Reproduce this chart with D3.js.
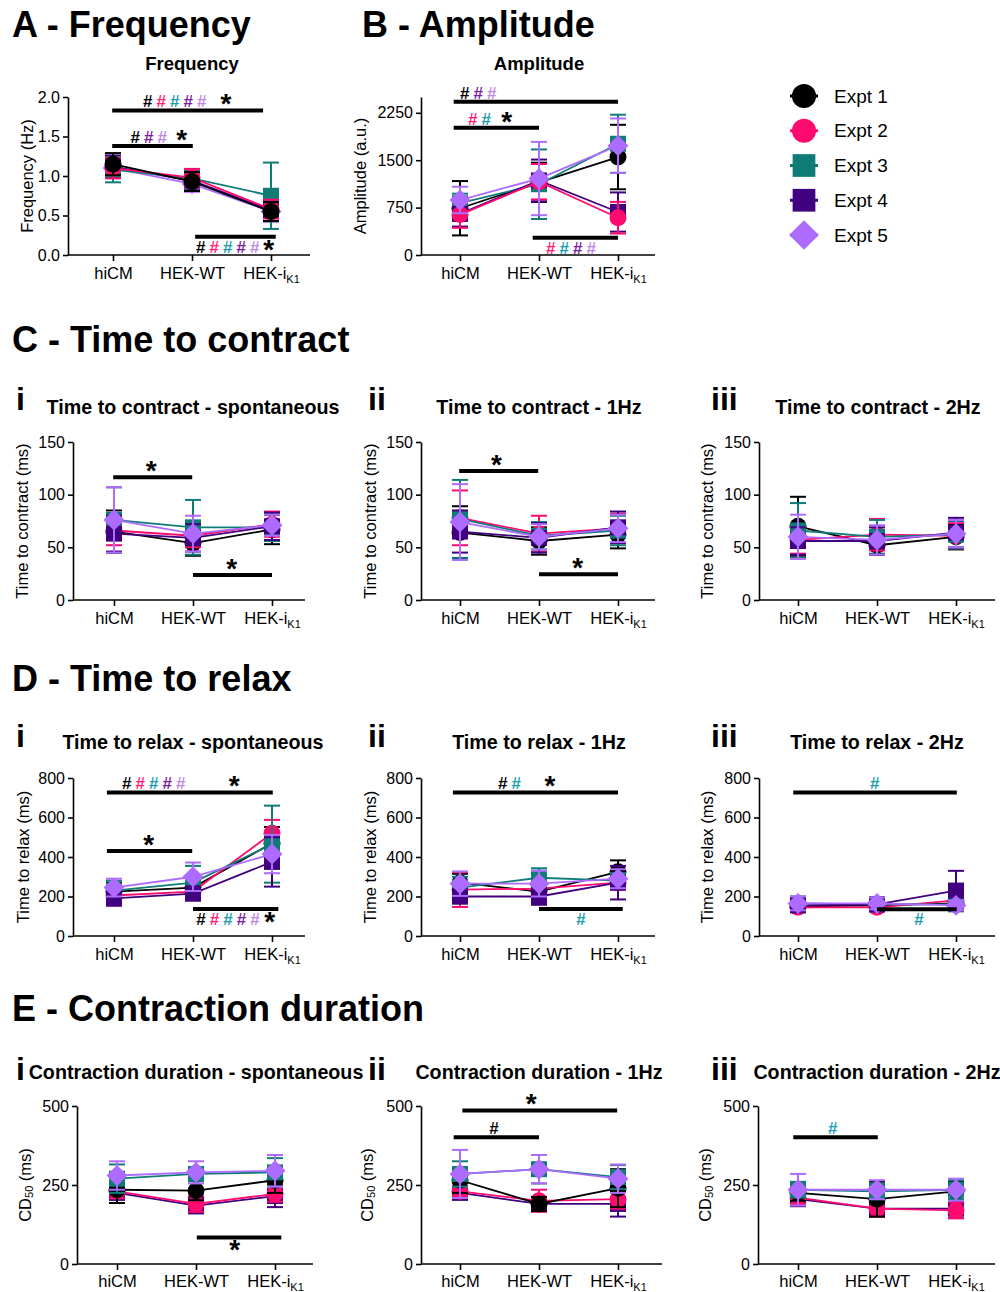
<!DOCTYPE html>
<html><head><meta charset="utf-8">
<script src="https://cdn.jsdelivr.net/npm/d3@7"></script>
<style>
body{margin:0;background:#fff}
svg text{font-family:"Liberation Sans",Arial,Helvetica,sans-serif}
</style>
</head><body>
<svg id="c" width="1000" height="1292"></svg>
<script>
// ---------------- DATA ----------------
const categories = ["hiCM", "HEK-WT", "HEK-iK1"];
const experiments = ["Expt 1", "Expt 2", "Expt 3", "Expt 4", "Expt 5"];

// rows = Expt 1..5, columns = categories
const freqMean = [[1.15,0.93,0.55],[1.10,0.98,0.58],[1.08,0.97,0.75],[1.12,0.94,0.57],[1.10,0.90,0.55]];
const freqSD   = [[0.14,0.12,0.12],[0.13,0.11,0.12],[0.16,0.10,0.42],[0.14,0.12,0.14],[0.12,0.10,0.13]];

const ampMean = [[740,1150,1550],[640,1160,590],[820,1120,1760],[650,1180,680],[870,1210,1730]];
const ampSD   = [[430,310,510],[210,280,250],[150,550,460],[200,330,310],[210,580,430]];

const ttcSpMean = [[65,54,67],[66,61,72],[76,69,69],[63,59,70],[76,63,71]];
const ttcSpSD   = [[20,12,14],[14,11,12],[31,26,13],[17,13,13],[31,17,10]];
const ttc1Mean  = [[64,56,62],[78,63,68],[77,61,66],[65,59,69],[74,60,68]];
const ttc1SD    = [[25,13,13],[26,17,14],[37,13,14],[20,14,15],[36,12,13]];
const ttc2Mean  = [[70,52,60],[57,62,61],[66,60,62],[56,56,64],[60,57,63]];
const ttc2SD    = [[28,9,12],[13,15,12],[26,16,13],[13,13,14],[21,14,13]];

const ttrSpMean = [[225,245,470],[205,225,520],[230,270,465],[190,215,375],[245,300,415]];
const ttrSpSD   = [[45,45,82],[50,35,68],[50,85,195],[35,35,125],[45,72,97]];
const ttr1Mean  = [[270,225,325],[235,240,270],[245,295,280],[200,200,270],[265,265,290]];
const ttr1SD    = [[45,55,58],[88,40,35],[55,48,38],[35,42,85],[62,65,48]];
const ttr2Mean  = [[150,155,165],[145,145,180],[165,160,160],[155,160,230],[165,165,155]];
const ttr2SD    = [[25,20,25],[20,20,25],[30,25,25],[25,25,100],[35,30,25]];

const cdSpMean = [[235,232,265],[230,190,222],[270,285,290],[225,185,215],[280,290,295]];
const cdSpSD   = [[42,30,40],[22,25,25],[45,22,45],[20,25,35],[45,35,50]];
const cd1Mean  = [[265,190,240],[230,200,205],[285,300,275],[225,190,190],[285,300,270]];
const cd1SD    = [[40,22,60],[16,35,30],[40,45,38],[16,22,40],[76,45,45]];
const cd2Mean  = [[225,205,230],[210,175,170],[235,230,235],[205,175,175],[235,235,235]];
const cd2SD    = [[25,55,30],[20,25,25],[25,25,30],[20,25,30],[50,30,35]];

// significance bars: x0/x1 in category-index units, y in data units,
// hash = experiments with "#", hx = first "#" position, star = "*" position
const freqSig = [
  {x0:-0.01,x1:1.90,y:1.83,hash:"12345",hx:0.44,star:1.43,side:"above"},
  {x0:-0.01,x1:1.01,y:1.38,hash:"145",hx:0.28,star:0.87,side:"above"},
  {x0:1.04,x1:2.06,y:0.23,hash:"12345",hx:1.11,star:1.97,side:"below"}];
const ampSig = [
  {x0:-0.08,x1:2.0,y:2425,hash:"145",hx:0.06,star:null,side:"above"},
  {x0:-0.08,x1:1.0,y:2014,hash:"23",hx:0.16,star:0.59,side:"above"},
  {x0:0.92,x1:2.0,y:274,hash:"2345",hx:1.15,star:null,side:"below"}];
const ttcSpSig = [
  {x0:-0.01,x1:0.99,y:116.5,hash:"",hx:0,star:0.47,side:"above"},
  {x0:1.0,x1:2.0,y:23.7,hash:"",hx:0,star:1.49,side:"above"}];
const ttc1Sig = [
  {x0:-0.01,x1:0.99,y:122.5,hash:"",hx:0,star:0.46,side:"above"},
  {x0:1.0,x1:2.0,y:24.4,hash:"",hx:0,star:1.49,side:"above"}];
const ttc2Sig = [];
const ttrSpSig = [
  {x0:-0.09,x1:2.01,y:727,hash:"12345",hx:0.16,star:1.52,side:"above"},
  {x0:-0.09,x1:0.99,y:430,hash:"",hx:0,star:0.44,side:"above"},
  {x0:1.0,x1:2.08,y:137,hash:"12345",hx:1.10,star:1.97,side:"below"}];
const ttr1Sig = [
  {x0:-0.09,x1:2.0,y:727,hash:"13",hx:0.54,star:1.14,side:"above"},
  {x0:1.0,x1:2.06,y:137,hash:"3",hx:1.53,star:null,side:"below"}];
const ttr2Sig = [
  {x0:-0.06,x1:2.01,y:727,hash:"3",hx:0.97,star:null,side:"above"},
  {x0:1.0,x1:2.01,y:135,hash:"3",hx:1.53,star:null,side:"below"}];
const cdSpSig = [
  {x0:1.01,x1:2.08,y:84,hash:"",hx:0,star:1.49,side:"below"}];
const cd1Sig = [
  {x0:0.03,x1:1.99,y:486,hash:"",hx:0,star:0.90,side:"above"},
  {x0:-0.08,x1:1.0,y:401,hash:"1",hx:0.43,star:null,side:"above"}];
const cd2Sig = [
  {x0:-0.06,x1:1.01,y:401,hash:"3",hx:0.44,star:null,side:"above"}];

const freqTicks = [0,0.5,1,1.5,2];
const ampTicks = [0,750,1500,2250];
const ttcTicks = [0,50,100,150];
const ttrTicks = [0,200,400,600,800];
const cdTicks = [0,250,500];

// ---------------- STYLE ----------------
const seriesColors = ["#000000","#ff0a6e","#0f7c78","#40007f","#ad6bff"];
const hashColors = {"1":"#000000","2":"#ff1f7a","3":"#1c9db2","4":"#7b1fa2","5":"#bf8ae6"};
const shapes = ["circle","circle","square","square","diamond"];
const STEP = 79;

const svg = d3.select("#c");

function drawMarker(g, shape, cx, cy, color, scale){
  let sym;
  if (shape==="circle") sym = d3.symbol(d3.symbolCircle, Math.PI*Math.pow(8.5*scale,2));
  else if (shape==="square") sym = d3.symbol(d3.symbolSquare, Math.pow(16*scale,2));
  else sym = d3.symbol(d3.symbolSquare, Math.pow(14.8*scale,2));
  g.append("path").attr("d", sym())
    .attr("transform", `translate(${cx},${cy})` + (shape==="diamond" ? " rotate(45)" : ""))
    .attr("fill", color);
}

function text(g, str, x, y, size, weight, anchor){
  return g.append("text").attr("x",x).attr("y",y).attr("font-size",size)
    .attr("font-weight",weight||"normal").attr("text-anchor",anchor||"start").attr("fill","#000").text(str);
}

const col1 = {ax:73, c0:114, xEnd:305, lx:22};
const col2 = {ax:421, c0:460, xEnd:655, lx:370};
const col3 = {ax:759, c0:798, xEnd:995, lx:707};
const eOrder = [3,1,0,2,4];

const panels = [
 {mean:freqMean, sd:freqSD, sig:freqSig, yMax:2, ticks:freqTicks, fmt:d3.format(".1f"), ylab:"Frequency (Hz)", ax:68, c0:113, xEnd:310, lx:27, yTop:97, yBot:255, order:[4,3,2,1,0]},
 {mean:ampMean, sd:ampSD, sig:ampSig, yMax:2500, ticks:ampTicks, fmt:d3.format("d"), ylab:"Amplitude (a.u.)", ax:421, c0:460, xEnd:655, lx:360, yTop:97, yBot:255, order:[0,2,3,1,4]},
 Object.assign({mean:ttcSpMean, sd:ttcSpSD, sig:ttcSpSig, yMax:150, ticks:ttcTicks, fmt:d3.format("d"), ylab:"Time to contract (ms)", yTop:442, yBot:600, order:[0,1,2,3,4]}, col1),
 Object.assign({mean:ttc1Mean, sd:ttc1SD, sig:ttc1Sig, yMax:150, ticks:ttcTicks, fmt:d3.format("d"), ylab:"Time to contract (ms)", yTop:442, yBot:600, order:[0,1,2,3,4]}, col2),
 Object.assign({mean:ttc2Mean, sd:ttc2SD, sig:ttc2Sig, yMax:150, ticks:ttcTicks, fmt:d3.format("d"), ylab:"Time to contract (ms)", yTop:442, yBot:600, order:[0,1,2,3,4]}, col3),
 Object.assign({mean:ttrSpMean, sd:ttrSpSD, sig:ttrSpSig, yMax:800, ticks:ttrTicks, fmt:d3.format("d"), ylab:"Time to relax (ms)", yTop:778, yBot:936, order:[0,1,2,3,4]}, col1, {lx:23}),
 Object.assign({mean:ttr1Mean, sd:ttr1SD, sig:ttr1Sig, yMax:800, ticks:ttrTicks, fmt:d3.format("d"), ylab:"Time to relax (ms)", yTop:778, yBot:936, order:[0,1,2,3,4]}, col2),
 Object.assign({mean:ttr2Mean, sd:ttr2SD, sig:ttr2Sig, yMax:800, ticks:ttrTicks, fmt:d3.format("d"), ylab:"Time to relax (ms)", yTop:778, yBot:936, order:[0,1,2,3,4]}, col3),
 {mean:cdSpMean, sd:cdSpSD, sig:cdSpSig, yMax:500, ticks:cdTicks, fmt:d3.format("d"), ylab:"CD", sub:true, ax:77, c0:117, xEnd:313, lx:25, yTop:1106, yBot:1264, order:eOrder, pad:5},
 {mean:cd1Mean, sd:cd1SD, sig:cd1Sig, yMax:500, ticks:cdTicks, fmt:d3.format("d"), ylab:"CD", sub:true, ax:421, c0:460, xEnd:662, lx:367, yTop:1106, yBot:1264, order:eOrder, pad:5},
 {mean:cd2Mean, sd:cd2SD, sig:cd2Sig, yMax:500, ticks:cdTicks, fmt:d3.format("d"), ylab:"CD", sub:true, ax:758, c0:798, xEnd:995, lx:705, yTop:1106, yBot:1264, order:eOrder, pad:5}
];

panels.forEach(p => {
  const g = svg.append("g");
  const y = d3.scaleLinear().domain([0,p.yMax]).range([p.yBot,p.yTop]);
  const x = d3.scalePoint().domain(categories).range([p.c0, p.c0+2*STEP]);
  const xi = d3.scaleLinear().domain([0,2]).range([p.c0, p.c0+2*STEP]);

  // y axis
  const ya = g.append("g").attr("transform",`translate(${p.ax},0)`)
    .call(d3.axisLeft(y).tickValues(p.ticks).tickFormat(p.fmt).tickSizeInner(5).tickSizeOuter(0).tickPadding(3));
  ya.attr("font-family",null).attr("font-size",16);
  ya.selectAll("text").attr("fill","#000");
  ya.selectAll("path,line").attr("stroke","#000").attr("stroke-width",1.6);

  // x axis
  const xa = g.append("g").attr("transform",`translate(0,${p.yBot})`)
    .call(d3.axisBottom(x).tickSizeInner(6).tickSizeOuter(0).tickPadding(p.pad || 6));
  xa.attr("font-family",null).attr("font-size",16.5);
  xa.select(".domain").remove();
  xa.append("line").attr("x1",p.ax).attr("x2",p.xEnd).attr("stroke","#000").attr("stroke-width",1.6);
  xa.selectAll("line").attr("stroke","#000").attr("stroke-width",1.6);
  xa.selectAll(".tick text").attr("fill","#000").each(function(d){
    if (d === "HEK-iK1"){
      const t = d3.select(this); t.text("HEK-i");
      t.append("tspan").attr("font-size",11).attr("dy","0.35em").text("K1");
    }
  });

  // y label
  const cy = (p.yTop+p.yBot)/2;
  const yl = g.append("text").attr("transform",`translate(${p.lx},${cy}) rotate(-90)`)
    .attr("text-anchor","middle").attr("font-size",16.5).attr("fill","#000")
    .attr("dominant-baseline","central");
  if (p.sub){
    yl.append("tspan").text("CD");
    yl.append("tspan").attr("font-size",11).attr("dy","0.35em").text("50");
    yl.append("tspan").attr("dy","-0.25em").text(" (ms)");
  } else yl.text(p.ylab);

  // series
  p.order.forEach(k => {
    const col = seriesColors[k];
    const m = p.mean[k], s = p.sd[k];
    const sg = g.append("g");
    sg.append("path").datum(m)
      .attr("d", d3.line().x((d,i)=>x(categories[i])).y(d=>y(d)))
      .attr("fill","none").attr("stroke",col).attr("stroke-width",1.8);
    m.forEach((v,i) => {
      const cx = x(categories[i]);
      const lo = y(Math.max(0,v - s[i])), hi = y(v + s[i]);
      sg.append("line").attr("x1",cx).attr("x2",cx).attr("y1",lo).attr("y2",hi).attr("stroke",col).attr("stroke-width",2);
      [lo,hi].forEach(yy => sg.append("line").attr("x1",cx-8).attr("x2",cx+8).attr("y1",yy).attr("y2",yy).attr("stroke",col).attr("stroke-width",2));
    });
    m.forEach((v,i) => drawMarker(sg, shapes[k], x(categories[i]), y(v), col, 1));
  });

  // significance
  p.sig.forEach(a => {
    const by = y(a.y);
    g.append("line").attr("x1",xi(a.x0)).attr("x2",xi(a.x1)).attr("y1",by).attr("y2",by)
      .attr("stroke","#000").attr("stroke-width",4);
    const c = a.side === "above" ? by - 9 : by + 10;
    a.hash.split("").forEach((h,j) => {
      g.append("text").attr("x", xi(a.hx) + j*13.5).attr("y", c + 6)
        .attr("text-anchor","middle").attr("font-size",17).attr("font-weight","bold")
        .attr("fill",hashColors[h]).text("#");
    });
    if (a.star !== null){
      g.append("text").attr("x", xi(a.star)).attr("y", c + 12)
        .attr("text-anchor","middle").attr("font-size",28).attr("font-weight","bold")
        .attr("fill","#000").text("*");
    }
  });
});

// ---------------- TITLES ----------------
const tg = svg.append("g");
text(tg,"A - Frequency",12,37,36,"bold");
text(tg,"B - Amplitude",362,37,36,"bold");
text(tg,"Frequency",192,70,18.5,"bold","middle");
text(tg,"Amplitude",539,70,18.5,"bold","middle");
text(tg,"C - Time to contract",12,352,36,"bold");
text(tg,"D - Time to relax",12,691,36,"bold");
text(tg,"E - Contraction duration",12,1021,36,"bold");

const subTitles = [
  ["i",16,410,"Time to contract - spontaneous",193,414],
  ["ii",368,410,"Time to contract - 1Hz",539,414],
  ["iii",711,410,"Time to contract - 2Hz",878,414],
  ["i",16,747,"Time to relax - spontaneous",193,749],
  ["ii",368,747,"Time to relax - 1Hz",539,749],
  ["iii",711,747,"Time to relax - 2Hz",877,749],
  ["i",16,1080,"Contraction duration - spontaneous",196,1079],
  ["ii",368,1080,"Contraction duration - 1Hz",539,1079],
  ["iii",711,1080,"Contraction duration - 2Hz",877,1079]
];
subTitles.forEach(s => {
  text(tg,s[0],s[1],s[2],32,"bold");
  text(tg,s[3],s[4],s[5],19.7,"bold","middle");
});

// ---------------- LEGEND ----------------
const lg = svg.append("g");
experiments.forEach((e,k) => {
  const ly = 96 + k*34.75;
  lg.append("line").attr("x1",790).attr("x2",818).attr("y1",ly).attr("y2",ly)
    .attr("stroke",seriesColors[k]).attr("stroke-width",3);
  drawMarker(lg, shapes[k], 804, ly, seriesColors[k], 1.42);
  text(lg, e, 834, ly, 19, "normal").attr("dominant-baseline","central");
});
</script>
</body></html>
